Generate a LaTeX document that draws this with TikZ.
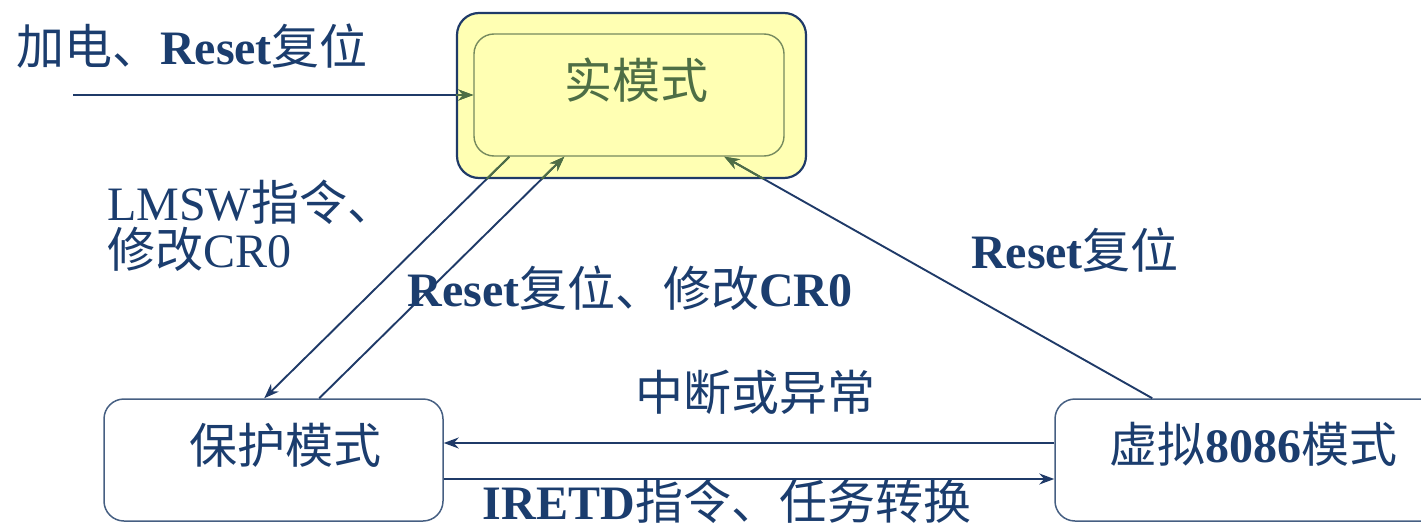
\documentclass[tikz,border=0pt]{standalone}
\usepackage{fontspec}
\setmainfont{Liberation Serif}
\newfontfamily\cjk{Noto Sans CJK SC}
\usetikzlibrary{arrows.meta,calc}

\definecolor{navy}{RGB}{31,58,104}
\definecolor{txtblue}{RGB}{27,61,110}
\definecolor{olive}{RGB}{78,110,69}
\definecolor{oliveline}{RGB}{118,138,94}
\definecolor{paleyellow}{RGB}{255,255,179}
\definecolor{boxline}{RGB}{70,95,130}

\newcommand{\zh}[1]{{\cjk #1}}

\tikzset{
  outerbox/.style={draw=navy, fill=paleyellow, line width=2.2pt, rounded corners=22pt, inner sep=0pt},
  innerbox/.style={draw=oliveline, line width=1.4pt, rounded corners=20pt, inner sep=0pt},
  modebox/.style={draw=boxline, line width=1.5pt, rounded corners=20pt, inner sep=0pt},
  lbl/.style={text=txtblue, font=\fontsize{48}{47}\selectfont, inner sep=0pt},
  realtext/.style={text=olive, font=\fontsize{48}{48}\selectfont, inner sep=0pt},
  tip/.style={-{Stealth[length=15pt,width=11pt]}},
  conn/.style={draw=navy, line width=1.9pt, tip},
  toreal/.style={draw=navy, line width=1.9pt, -{Stealth[length=15pt,width=11pt,color=olive]}},
  greenpart/.style={draw=olive, line width=1.9pt},
}

\begin{document}
\begin{tikzpicture}[x=1pt, y=-1pt]
\useasboundingbox (0,0) rectangle (1421,527);
\clip (0,0) rectangle (1421,527);

% mode boxes
\node[outerbox, minimum width=349pt, minimum height=165pt] (realouter) at (631.5,95.5) {};
\node[innerbox, minimum width=310pt, minimum height=122pt] (real) at (629,95) {};
\node[modebox, minimum width=339pt, minimum height=122pt] (prot) at (273.5,460) {};
\node[modebox, minimum width=390pt, minimum height=122pt] (virt) at (1250,460) {};

% box titles
\node[realtext] (realtxt) at (636,80) {\zh{实模式}};
\node[lbl] (prottxt) at (285,445) {\zh{保护模式}};
\node[lbl] (virttxt) at (1253,444) {\zh{虚拟}\textbf{8086}\zh{模式}};

% end points on the box borders
\coordinate (power) at (73,95);
\coordinate (rA) at ([xshift=36pt]real.south west);
\coordinate (rB) at ([xshift=91pt]real.south west);
\coordinate (rC) at ([xshift=251pt]real.south west);
\coordinate (pA) at ([xshift=161pt]prot.north west);
\coordinate (pB) at ([xshift=216pt]prot.north west);
\coordinate (vA) at ([xshift=98pt]virt.north west);

% transitions
\draw[toreal] (power) -- (real.west);
\draw[conn] (rA) -- (pA);
\draw[toreal] (pB) -- (rB);
\draw[toreal] (vA) -- (rC);
\draw[conn] ([yshift=17pt]virt.west) -- ([yshift=17pt]prot.east);
\draw[conn] ([yshift=-19pt]prot.east) -- ([yshift=-19pt]virt.west);

% the parts of the lines lying on the yellow box
\begin{scope}
  \clip[rounded corners=22pt] (realouter.south west) rectangle (realouter.north east);
  \draw[greenpart, -{Stealth[length=15pt,width=11pt]}] (power) -- (real.west);
  \draw[greenpart] (rA) -- (pA);
  \draw[greenpart, -{Stealth[length=15pt,width=11pt]}] (pB) -- (rB);
  \draw[greenpart, -{Stealth[length=15pt,width=11pt]}] (vA) -- (rC);
\end{scope}

% transition labels
\node[lbl] (lpower) at (192,46) {\zh{加电、}\textbf{Reset}\zh{复位}};
\node[lbl, align=left, anchor=west] (llmsw) at (107,226) {LMSW\zh{指令、}\\\zh{修改}CR0};
\node[lbl] (lreset) at (630,288) {\textbf{Reset}\zh{复位、修改}\textbf{CR0}};
\node[lbl] (lvreset) at (1075,250) {\textbf{Reset}\zh{复位}};
\node[lbl] (lint) at (755,392) {\zh{中断或异常}};
\node[lbl] (liretd) at (727,501) {\textbf{IRETD}\zh{指令、任务转换}};
\end{tikzpicture}
\end{document}
